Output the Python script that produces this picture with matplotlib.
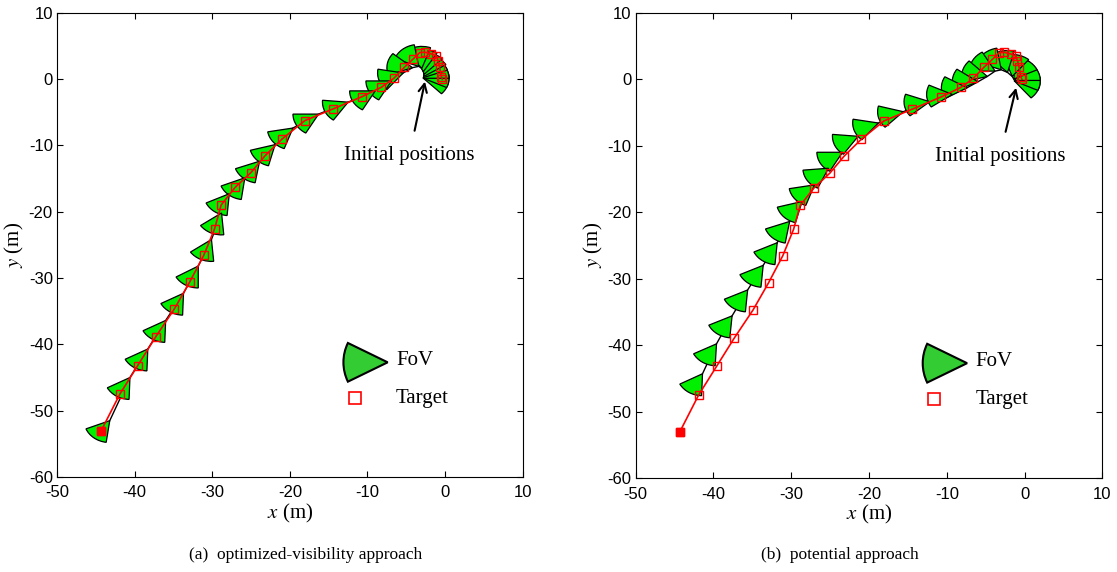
import numpy as np
import matplotlib.pyplot as plt
from matplotlib.patches import Wedge

# target trajectory (same in both panels), start near origin
target_x = [-0.36, -0.49, -0.71, -0.93, -1.13, -1.78, -2.64, -3.28, -4.15, -5.25,
            -6.59, -8.21, -10.71, -14.44, -18.08, -21.0, -23.19, -25.03, -27.05, -28.85,
            -29.7, -31.08, -32.9, -34.9, -37.3, -39.6, -41.9, -44.3]
target_y = [-0.05, 0.35, 1.77, 2.76, 3.47, 3.77, 4.03, 3.97, 2.97, 1.76,
            0.11, -1.25, -2.67, -4.52, -6.29, -9.05, -11.57, -14.13, -16.34, -19.0,
            -22.6, -26.55, -30.6, -34.7, -38.9, -43.2, -47.5, -53.0]

# (a) optimized-visibility: robot positions and heading (deg)
robot_a_x = [-2.8, -2.8, -2.8, -2.8, -2.7, -2.7, -2.8, -3.0, -3.4, -4.2,
             -5.4, -6.9, -9.0, -12.5, -16.3, -19.6, -21.9, -23.9, -25.8, -27.8,
             -28.8, -30.1, -31.8, -33.7, -36.0, -38.3, -40.6, -43.2]
robot_a_y = [0.1, 0.1, 0.1, 0.2, 0.4, 0.7, 1.1, 1.6, 1.9, 1.7,
             0.9, -0.3, -1.8, -3.5, -5.3, -7.4, -9.9, -12.4, -14.9, -17.3,
             -20.2, -24.2, -28.2, -32.3, -36.4, -40.7, -45.0, -51.5]
heading_a = [-15, 5, 30, 50, 62, 75, 88, 100, 130, 170,
             200, 210, 210, 205, 210, 220, 225, 230, 232, 235,
             245, 245, 240, 238, 238, 238, 238, 232]

# (b) potential approach
robot_b_x = [-1.3, -1.3, -1.3, -1.4, -1.6, -2.2, -3.0, -3.8, -4.8, -6.0,
             -7.4, -9.3, -12.2, -15.6, -18.8, -21.4, -23.4, -25.2, -27.0, -28.6,
             -30.2, -31.8, -33.6, -35.6, -37.6, -39.6, -41.4]
robot_b_y = [-0.3, -0.3, -0.2, 0.0, 0.4, 1.0, 1.4, 1.2, 0.4, -0.4,
             -1.3, -2.3, -3.4, -4.9, -6.6, -8.6, -11.0, -13.4, -15.9, -18.4,
             -21.4, -24.6, -28.0, -31.7, -35.6, -39.8, -44.3]
heading_b = [-20, 5, 30, 55, 80, 105, 130, 150, 165, 175,
             180, 185, 190, 195, 200, 205, 210, 215, 220, 225,
             230, 235, 235, 235, 235, 237, 238]

FOV_R = 3.3
FOV_HALF = 30

plt.rcParams['font.family'] = 'Liberation Sans'
plt.rcParams['mathtext.fontset'] = 'stix'
plt.rcParams['axes.unicode_minus'] = False

fig = plt.figure(figsize=(11.17, 5.72), dpi=100)
ax1 = fig.add_axes([0.051, 0.166, 0.417, 0.812])
ax2 = fig.add_axes([0.569, 0.164, 0.418, 0.814])


def draw_panel(ax, rx, ry, hd, note_pos, note_tip):
    ax.plot(rx, ry, 'k-', lw=1, zorder=2)
    for x, y, h in zip(rx, ry, hd):
        ax.add_patch(Wedge((x, y), FOV_R, h - FOV_HALF, h + FOV_HALF,
                           fc='#00f000', ec='k', lw=0.9, zorder=3))
    ax.plot(target_x, target_y, '-', color='r', lw=1.2, marker='s',
            mfc='none', mec='r', ms=6, mew=1, zorder=4)
    ax.plot(target_x[-1], target_y[-1], 's', color='r', ms=6, zorder=5)

    ax.annotate('Initial positions', xy=note_tip, xytext=note_pos,
                ha='center', va='center', fontsize=15, family='Liberation Serif',
                arrowprops=dict(arrowstyle='->', color='k', lw=1.5,
                                shrinkA=9, shrinkB=0))

    # legend
    ax.add_patch(Wedge((0.71, 0.247), 0.095, 180 - FOV_HALF + 4, 180 + FOV_HALF - 4,
                       transform=ax.transAxes, fc='#33cc33', ec='k', lw=1.5))
    ax.text(0.728, 0.25, 'FoV', transform=ax.transAxes, fontsize=15,
            family='Liberation Serif', va='center')
    ax.plot([0.64], [0.17], 's', transform=ax.transAxes, mfc='none', mec='r',
            ms=8, mew=1.2)
    ax.text(0.728, 0.17, 'Target', transform=ax.transAxes, fontsize=15,
            family='Liberation Serif', va='center')

    ax.set_xlim(-50, 10)
    ax.set_ylim(-60, 10)
    ax.set_xticks(np.arange(-50, 11, 10))
    ax.set_yticks(np.arange(-60, 11, 10))
    ax.tick_params(direction='in', top=True, right=True, length=4,
                   labelsize=12, width=0.8)
    ax.tick_params(axis='x', pad=6)
    ax.tick_params(axis='y', pad=3)
    for s in ax.spines.values():
        s.set_linewidth(0.8)
    ax.set_xlabel('$x$ (m)', fontsize=15, family='Liberation Serif', labelpad=1)
    ax.set_ylabel('$y$ (m)', fontsize=15, family='Liberation Serif', labelpad=2)


draw_panel(ax1, robot_a_x, robot_a_y, heading_a, (-4.6, -11.5), (-2.6, -0.4))
draw_panel(ax2, robot_b_x, robot_b_y, heading_b, (-3.2, -11.6), (-1.1, -1.3))

fig.text(0.274, 0.03, '(a)  optimized-visibility approach', ha='center', va='center',
         fontsize=12.5, family='Liberation Serif')
fig.text(0.752, 0.03, '(b)  potential approach', ha='center', va='center',
         fontsize=12.5, family='Liberation Serif')

fig.savefig('out.png', dpi=100)
